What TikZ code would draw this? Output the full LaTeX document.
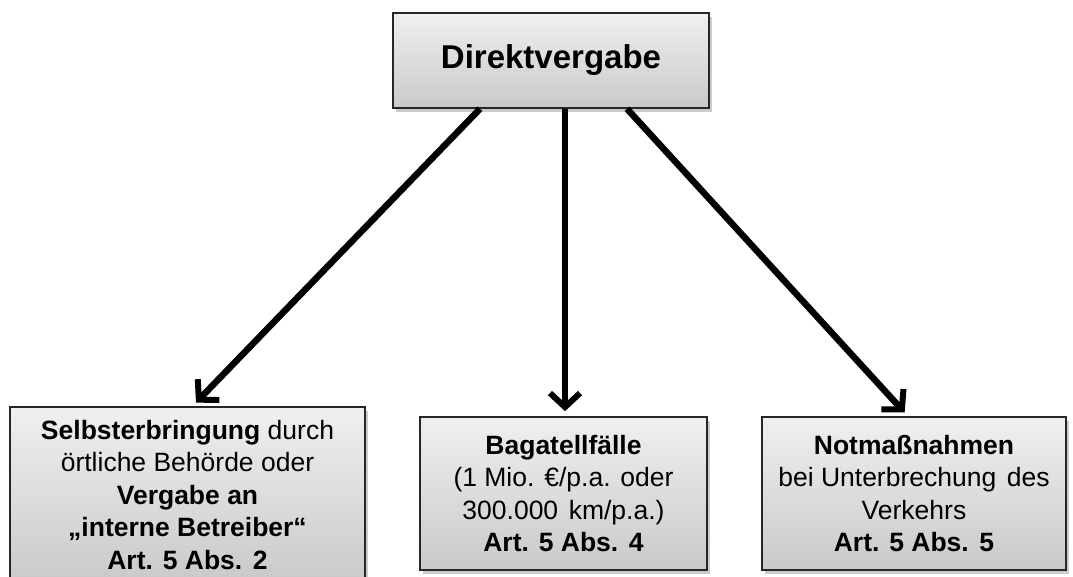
\documentclass[tikz,border=0pt]{standalone}
\usepackage{fontspec}
\setmainfont{Liberation Sans}
\usetikzlibrary{shadows, arrows.meta, positioning, calc}

\tikzset{
  kasten/.style={draw=black!85, line width=1.6pt, top color=gray!12, bottom color=gray!42,
    drop shadow={shadow xshift=3pt, shadow yshift=-4pt, fill=black!40},
    align=center, inner sep=0pt, font=\fontsize{26.5}{32.5}\selectfont},
  pfeil/.style={line width=6.5pt, -{Straight Barb[length=14pt, width=30pt, line width=6pt]}, shorten >=5pt}
}

\begin{document}
\begin{tikzpicture}[x=1pt, y=-1pt]
    \useasboundingbox[fill=white] (0,0) rectangle (1073,577);
    \node[kasten, minimum width=316pt, minimum height=95pt, font=\fontsize{33}{38}\selectfont\bfseries] (D) at (551,60.5) {Direktvergabe};
    \node[kasten, minimum width=355pt, minimum height=176pt] (S) at (187.5,495)
      {\textbf{Selbsterbringung} durch\\örtliche Behörde oder\\\textbf{Vergabe an}\\\textbf{„interne Betreiber“}\\\textbf{Art. 5 Abs.\hspace{0.4em}2}};
    \node[kasten, minimum width=287pt, minimum height=153pt] (B) at (563.5,493.5)
      {\textbf{Bagatellfälle}\\(1 Mio. €/p.a. oder\\300.000\hspace{0.4em}km/p.a.)\\\textbf{Art. 5 Abs.\hspace{0.4em}4}};
    \node[kasten, minimum width=304pt, minimum height=153pt] (N) at (914,493.5)
      {\textbf{Notmaßnahmen}\\bei Unterbrechung\hspace{0.4em}des\\Verkehrs\\\textbf{Art. 5 Abs.\hspace{0.4em}5}};

    \draw[pfeil] ([xshift=-71pt]D.south) -- ([xshift=5pt]S.north);
    \draw[pfeil] ([xshift=14pt]D.south) -- ([xshift=1.5pt]B.north);
    \draw[pfeil] ([xshift=76pt]D.south) -- ([xshift=-6pt]N.north);
\end{tikzpicture}
\end{document}
